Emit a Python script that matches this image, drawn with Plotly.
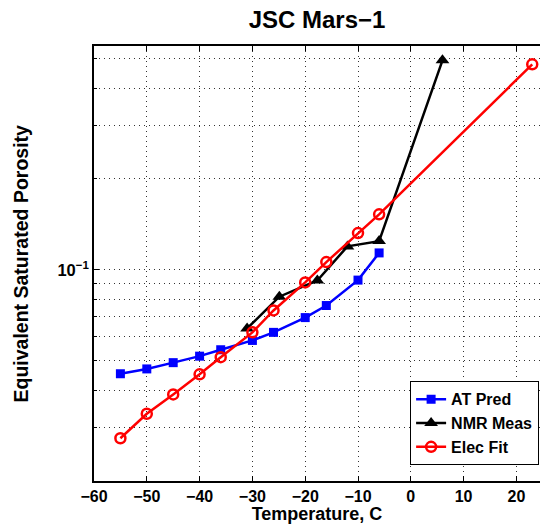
import plotly.graph_objects as go
import math

at_x = [-55, -50, -45, -40, -36, -30, -26, -20, -16, -10, -6]
at_y = [0.0453, 0.0470, 0.0493, 0.0518, 0.0544, 0.0584, 0.0621, 0.0695, 0.0762, 0.0925, 0.1138]

nmr_x = [-31, -24.9, -17.7, -12, -6, 6]
nmr_y = [0.0640, 0.0815, 0.0922, 0.1196, 0.1245, 0.494]

elec_x = [-55, -50, -45, -40, -36, -30, -26, -20, -16, -10, -6, 23]
elec_y = [0.0277, 0.0334, 0.0387, 0.0451, 0.0514, 0.0621, 0.0734, 0.0909, 0.1061, 0.1324, 0.1527, 0.479]

x_ticks = [-60, -50, -40, -30, -20, -10, 0, 10, 20]
y_major = [0.1]
y_minor = [0.02, 0.03, 0.04, 0.05, 0.06, 0.07, 0.08, 0.09, 0.2, 0.3, 0.4, 0.5]

FONT = "Liberation Sans"
W, H = 540, 524
L, T, B = 94, 46, 43

fig = go.Figure()
fig.add_trace(go.Scatter(x=at_x, y=at_y, name="<b>AT Pred</b>", mode="lines+markers",
                         line=dict(color="#0000ff", width=2.5),
                         marker=dict(symbol="square", size=9, color="#0000ff")))
fig.add_trace(go.Scatter(x=nmr_x, y=nmr_y, name="<b>NMR Meas</b>", mode="lines+markers",
                         line=dict(color="#000000", width=2.5),
                         marker=dict(symbol="triangle-up", size=12, color="#000000")))
fig.add_trace(go.Scatter(x=elec_x, y=elec_y, name="<b>Elec Fit</b>", mode="lines+markers",
                         line=dict(color="#ff0000", width=2.5),
                         marker=dict(symbol="circle-open", size=10, color="#ff0000",
                                     line=dict(width=2.5, color="#ff0000"))))

grid = dict(showgrid=True, gridcolor="#333333", griddash="1px,4px", gridwidth=1)

fig.update_layout(
    width=W, height=H,
    margin=dict(l=L, r=0, t=T, b=B),
    paper_bgcolor="white", plot_bgcolor="white",
    font=dict(family=FONT, color="black", size=16),
    title=dict(text="<b>JSC Mars\u22121</b>", x=(L + W) / 2 / W, xanchor="center",
               y=1 - 20 / H, yanchor="middle", font=dict(size=24, family=FONT)),
    showlegend=True,
    legend=dict(x=0.998, xanchor="right", y=0.036, yanchor="bottom",
                bgcolor="white", bordercolor="black", borderwidth=1,
                font=dict(size=16, family=FONT), tracegroupgap=0),
)
fig.update_xaxes(
    range=[-60, 24.47], tickvals=x_ticks,
    ticktext=[("<b>\u2212%d</b>" % -v) if v < 0 else "<b>%d</b>" % v for v in x_ticks],
    showline=True, linecolor="black", linewidth=1.5, mirror="ticks",
    ticks="inside", ticklen=5, tickcolor="black",
    zeroline=False, tickfont=dict(size=16, family=FONT),
    title=dict(text="<b>Temperature, C</b>", font=dict(size=18, family=FONT), standoff=4),
    **grid,
)
fig.update_yaxes(
    type="log", range=[math.log10(0.02), math.log10(0.551)],
    tickvals=y_major, ticktext=["<b>10<sup>\u22121</sup></b>"],
    showline=True, linecolor="black", linewidth=1.5, mirror=False,
    ticks="inside", ticklen=5, tickcolor="black",
    zeroline=False, tickfont=dict(size=16.5, family=FONT),
    minor=dict(tickvals=y_minor, ticks="inside", ticklen=3, tickcolor="black", **grid),
    **grid,
)
fig.add_annotation(text="<b>Equivalent Saturated Porosity</b>", textangle=-90,
                   xref="paper", yref="paper", x=0, y=0.5, xanchor="center", yanchor="middle",
                   xshift=-(L - 20), showarrow=False, font=dict(size=19.5, family=FONT))

fig.write_html("out.html",
               config={"displayModeBar": False},
               post_script="document.body.style.margin='0';"
                           "document.body.style.overflow='hidden';")
